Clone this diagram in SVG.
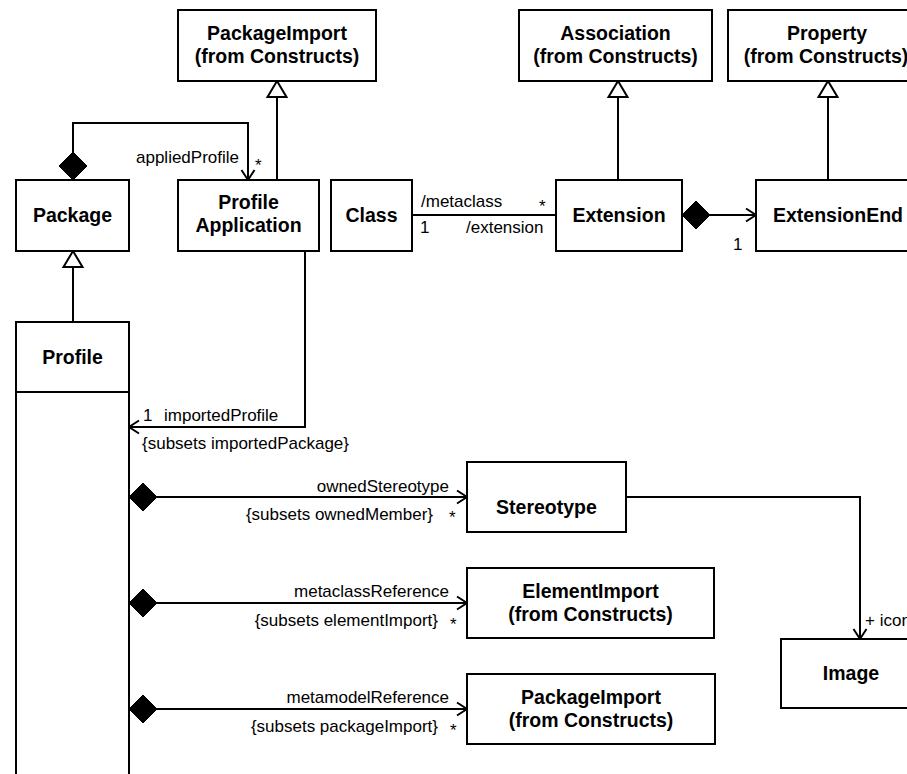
<svg xmlns="http://www.w3.org/2000/svg" width="907" height="774" viewBox="0 0 907 774">
<style>
.box{fill:#fff;stroke:#000;stroke-width:2}
.c{fill:none;stroke:#000;stroke-width:2}
.b{font-family:"Liberation Sans",Arial,sans-serif;font-weight:bold;font-size:19.5px;text-anchor:middle;fill:#000}
.t{font-family:"Liberation Sans",Arial,sans-serif;font-size:17px;fill:#000}
.e{text-anchor:end}
</style>
<defs>
<marker id="arr" markerUnits="userSpaceOnUse" markerWidth="30" markerHeight="30" orient="auto" overflow="visible">
<path d="M-10,-6.5 L0,0 L-10,6.5" fill="none" stroke="#000" stroke-width="2"/>
</marker>
<marker id="tri" markerUnits="userSpaceOnUse" markerWidth="30" markerHeight="30" orient="auto" overflow="visible">
<path d="M0,0 L-16,-9.5 L-16,9.5 Z" fill="#fff" stroke="#000" stroke-width="2"/>
</marker>
<marker id="dia" markerUnits="userSpaceOnUse" markerWidth="40" markerHeight="40" orient="auto" overflow="visible">
<path d="M0,0 L14,-14 L28,0 L14,14 Z" fill="#000" stroke="#000" stroke-width="1"/>
</marker>
</defs>

<g id="connectors">
<path class="c" d="M73,180 L73,123 L248,123 L248,180" marker-start="url(#dia)" marker-end="url(#arr)"/>
<path class="c" d="M277,180 L277,81" marker-end="url(#tri)"/>
<path class="c" d="M73,321 L73,251" marker-end="url(#tri)"/>
<path class="c" d="M305,251 L305,427 L129,427" marker-end="url(#arr)"/>
<path class="c" d="M412,215 L556,215"/>
<path class="c" d="M618,180 L618,81" marker-end="url(#tri)"/>
<path class="c" d="M682,215 L756,215" marker-start="url(#dia)" marker-end="url(#arr)"/>
<path class="c" d="M828,180 L828,81" marker-end="url(#tri)"/>
<path class="c" d="M129,497 L467,497" marker-start="url(#dia)" marker-end="url(#arr)"/>
<path class="c" d="M129,603 L467,603" marker-start="url(#dia)" marker-end="url(#arr)"/>
<path class="c" d="M129,709 L467,709" marker-start="url(#dia)" marker-end="url(#arr)"/>
<path class="c" d="M626,497 L860,497 L860,639" marker-end="url(#arr)"/>
<text class="t" x="136" y="163">appliedProfile</text>
<text class="t" x="255" y="171">*</text>
<text class="t" x="143" y="421">1</text>
<text class="t" x="164" y="421">importedProfile</text>
<text class="t" x="142" y="449">{subsets importedPackage}</text>
<text class="t" x="421" y="207">/metaclass</text>
<text class="t" x="539" y="212">*</text>
<text class="t" x="420" y="233">1</text>
<text class="t" x="466" y="233">/extension</text>
<text class="t" x="733" y="250">1</text>
<text class="t e" x="449" y="492">ownedStereotype</text>
<text class="t e" x="433" y="520">{subsets ownedMember}</text>
<text class="t" x="449" y="523">*</text>
<text class="t e" x="449" y="597">metaclassReference</text>
<text class="t e" x="438" y="626">{subsets elementImport}</text>
<text class="t" x="450" y="630">*</text>
<text class="t e" x="449" y="703">metamodelReference</text>
<text class="t e" x="438" y="732">{subsets packageImport}</text>
<text class="t" x="450" y="736">*</text>
<text class="t" x="865" y="626">+ icon</text>
</g>

<g id="packageImportTop">
<rect class="box" x="178" y="10" width="198" height="71"/>
<text class="b" x="277" y="40">PackageImport</text>
<text class="b" x="277" y="63">(from Constructs)</text>
</g>
<g id="association">
<rect class="box" x="519" y="10" width="193" height="71"/>
<text class="b" x="615.5" y="40">Association</text>
<text class="b" x="615.5" y="63">(from Constructs)</text>
</g>
<g id="property">
<rect class="box" x="728" y="10" width="198" height="71"/>
<text class="b" x="827" y="40">Property</text>
<text class="b" x="826" y="63">(from Constructs)</text>
</g>
<g id="package">
<rect class="box" x="16" y="180" width="113" height="71"/>
<text class="b" x="72.5" y="222">Package</text>
</g>
<g id="profileApplication">
<rect class="box" x="178" y="180" width="141" height="71"/>
<text class="b" x="248.5" y="209">Profile</text>
<text class="b" x="248.5" y="232">Application</text>
</g>
<g id="class">
<rect class="box" x="331" y="180" width="81" height="71"/>
<text class="b" x="371.5" y="222">Class</text>
</g>
<g id="extension">
<rect class="box" x="556" y="180" width="126" height="71"/>
<text class="b" x="619" y="222">Extension</text>
</g>
<g id="extensionEnd">
<rect class="box" x="756" y="180" width="165" height="71"/>
<text class="b" x="838" y="222">ExtensionEnd</text>
</g>
<g id="profile">
<rect class="box" x="16" y="322" width="113" height="470"/>
<line class="c" x1="16" y1="392" x2="129" y2="392"/>
<text class="b" x="72.5" y="364">Profile</text>
</g>
<g id="stereotype">
<rect class="box" x="467" y="462" width="159" height="70"/>
<text class="b" x="546.5" y="514">Stereotype</text>
</g>
<g id="elementImport">
<rect class="box" x="467" y="568" width="247" height="70"/>
<text class="b" x="590.5" y="598">ElementImport</text>
<text class="b" x="590.5" y="621">(from Constructs)</text>
</g>
<g id="packageImportBottom">
<rect class="box" x="467" y="674" width="248" height="70"/>
<text class="b" x="591" y="704">PackageImport</text>
<text class="b" x="591" y="727">(from Constructs)</text>
</g>
<g id="image">
<rect class="box" x="781" y="639" width="140" height="69"/>
<text class="b" x="851" y="680">Image</text>
</g>
</svg>
